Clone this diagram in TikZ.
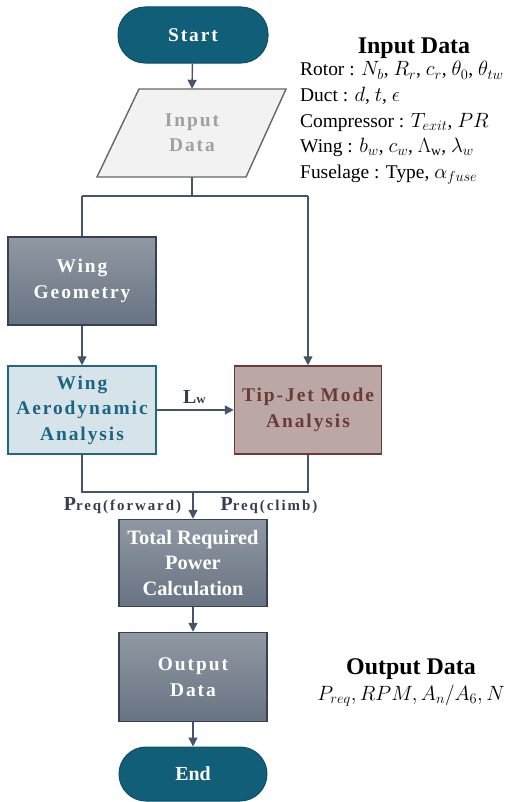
\documentclass[tikz,border=0pt]{standalone}
\usepackage{fontspec}
\setmainfont{Liberation Serif}
\newfontfamily\spc[LetterSpace=10]{Liberation Serif}
\newfontfamily\spcb[LetterSpace=13]{Liberation Serif}
\usetikzlibrary{arrows.meta}
\definecolor{cTeal}{HTML}{115E78}
\definecolor{cTealD}{HTML}{0E4F66}
\definecolor{cLine}{HTML}{44546A}
\definecolor{cSlate}{HTML}{364254}
\definecolor{cGa}{HTML}{9098A2}
\definecolor{cGb}{HTML}{687383}
\definecolor{cAeroF}{HTML}{D6E4EA}
\definecolor{cAeroD}{HTML}{1F6A80}
\definecolor{cAeroT}{HTML}{1B6582}
\definecolor{cTipF}{HTML}{BBA8A6}
\definecolor{cTipD}{HTML}{6B3A33}
\definecolor{cInF}{HTML}{F2F2F2}
\definecolor{cInD}{HTML}{666666}
\definecolor{cInT}{HTML}{A0A0A0}
\definecolor{cLab}{HTML}{333F50}
\begin{document}
\begin{tikzpicture}[x=1bp,y=-1bp,
  line/.style={draw=cLine, line width=1.4bp},
  arr/.style={line, -{Triangle[length=9bp,width=9bp]}},
  boxfont/.style={font=\spc\bfseries\fontsize{19.5}{25.5}\selectfont},
  term/.style={draw=cTealD, fill=cTeal, line width=1bp, rounded corners=27bp,
    minimum width=150bp, minimum height=56bp, text=white, boxfont},
  graybox/.style={draw=cSlate, line width=1.5bp, top color=cGa, bottom color=cGb,
    minimum width=148bp, minimum height=88bp, align=center, text=white, boxfont},
  aerobox/.style={draw=cAeroD, line width=1.5bp, fill=cAeroF,
    minimum width=148bp, minimum height=88bp, align=center, text=cAeroT, boxfont},
  tipbox/.style={draw=cTipD, line width=1.5bp, fill=cTipF,
    minimum width=147bp, minimum height=88bp, align=center, text=cTipD, boxfont},
  lab/.style={text=cLab, font=\spcb\bfseries, inner sep=0pt, anchor=base},
  side/.style={font=\fontsize{19.5}{25.5}\selectfont, inner sep=0pt, anchor=base west},
  title/.style={font=\bfseries\fontsize{24}{28}\selectfont, inner sep=0pt, anchor=base}
]
\useasboundingbox (0,0) rectangle (516,802);

% parallelogram outline
\draw[draw=cInD, fill=cInF, line width=1.4bp] (139,89) -- (286,89) -- (246,177) -- (97,177) -- cycle;

\node[term] (start) at (193,35) {Start};
\node[align=center, text=cInT, boxfont, minimum width=147bp, minimum height=88bp, inner sep=0pt] (input) at (192,133) {Input\\Data};
\node[graybox] (geo) at (82,281) {Wing\\Geometry};
\node[aerobox] (aero) at (82,410) {Wing\\Aerodynamic\\Analysis};
\node[tipbox] (tip) at (308,410) {Tip-Jet Mode\\Analysis};
\node[graybox, font=\bfseries\fontsize{20.5}{25.5}\selectfont, minimum height=87bp] (total) at (193,563) {Total Required\\Power\\Calculation};
\node[graybox, minimum height=89bp] (out) at (193,677) {Output\\Data};
\node[term, minimum width=148bp, minimum height=54bp, font=\bfseries\fontsize{20}{25.5}\selectfont] (end) at (193,774) {End};

\coordinate (split) at (192,196);
\coordinate (splitL) at (82,196);
\coordinate (splitR) at (308,196);
\coordinate (joinL) at (82,492);
\coordinate (joinR) at (308,492);
\coordinate (join) at (193,492);

\draw[arr] (start) -- (input.north);
\draw[line] (input.south) -- (split);
\draw[line] (splitL) -- (splitR);
\draw[line] (splitL) -- (geo.north);
\draw[arr] (splitR) -- (tip.north);
\draw[arr] (geo) -- (aero);
\draw[arr] (aero) -- (tip) ;
\draw[line] (aero.south) -- (joinL) -- (joinR) -- (tip.south);
\draw[arr] (join) -- (total.north);
\draw[arr] (total) -- (out);
\draw[arr] (out) -- (end);

\node[lab] (lw) at (194.5,403) {{\fontsize{20}{20}\selectfont L}{\fontsize{13}{13}\selectfont w}};
\node[lab] (pf) at (122.5,510) {{\fontsize{20}{20}\selectfont P}{\fontsize{15}{15}\selectfont req(forward)}};
\node[lab] (pc) at (269,510) {{\fontsize{20}{20}\selectfont P}{\fontsize{15}{15}\selectfont req(climb)}};

\node[title] (inTitle) at (414,54) {Input Data};
\node[side] (l1) at (300,76) {Rotor : $N_b$, $R_r$, $c_r$, $\theta_0$, $\theta_{tw}$};
\node[side] (l2) at (300,101.5) {Duct : $d$, $t$, $\epsilon$};
\node[side] (l3) at (300,127) {Compressor : $T_{exit}$, $PR$};
\node[side] (l4) at (300,152.5) {Wing : $b_w$, $c_w$, $\Lambda_{\mathrm{w}}$, $\lambda_w$};
\node[side] (l5) at (300,178) {Fuselage : Type, $\alpha_{fuse}$};

\node[title] (outTitle) at (411,674) {Output Data};
\node[side, anchor=base] (o1) at (411,700) {$P_{req}, RPM, A_n/A_6, N$};
\end{tikzpicture}
\end{document}
